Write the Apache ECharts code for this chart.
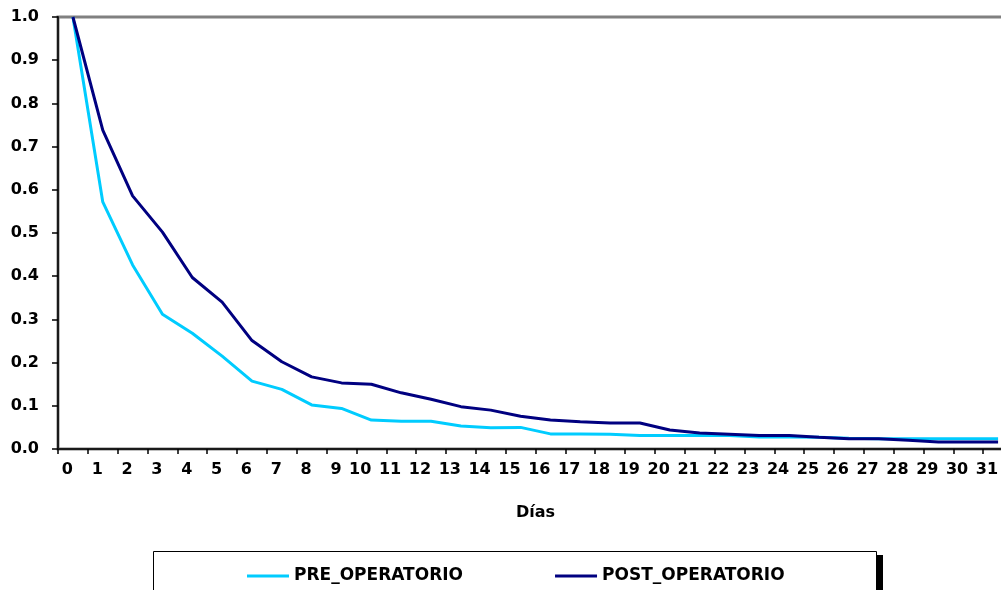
<!DOCTYPE html>
<html>
<head>
<meta charset="utf-8">
<script src="https://cdn.jsdelivr.net/npm/echarts@6/dist/echarts.min.js"></script>
<style>
html,body{margin:0;padding:0;background:#fff;}
#chart{width:1001px;height:590px;}
</style>
</head>
<body>
<div id="chart"></div>
<script>
var days = ["0","1","2","3","4","5","6","7","8","9","10","11","12","13","14","15","16","17","18","19","20","21","22","23","24","25","26","27","28","29","30","31"];
var preOperatorio = [1.0,0.572,0.426,0.312,0.268,0.215,0.157,0.138,0.102,0.094,0.067,0.064,0.064,0.053,0.049,0.050,0.035,0.035,0.034,0.031,0.031,0.031,0.031,0.028,0.028,0.027,0.025,0.024,0.024,0.024,0.024,0.024];
var postOperatorio = [1.0,0.738,0.586,0.502,0.397,0.340,0.251,0.202,0.167,0.153,0.150,0.130,0.115,0.098,0.090,0.076,0.067,0.063,0.060,0.060,0.044,0.037,0.034,0.031,0.031,0.027,0.024,0.024,0.020,0.016,0.016,0.016];
var seriesNames = ["PRE_OPERATORIO","POST_OPERATORIO"];
var xTitle = "Días";

var chart = echarts.init(document.getElementById('chart'));
var font = 'DejaVu Sans, Verdana, sans-serif';
chart.setOption({
  animation: false,
  backgroundColor: '#ffffff',
  grid: {
    left: 58, top: 17, width: 955, height: 432,
    outerBoundsMode: 'none',
    containLabel: false,
    show: true, borderColor: '#808080', borderWidth: 3, backgroundColor: 'transparent'
  },
  graphic: [
    { type: 'rect', z: 0, silent: true, shape: { x: 160, y: 555, width: 723, height: 60 }, style: { fill: '#000000' } },
    { type: 'rect', z: 1, silent: true, shape: { x: 153.5, y: 551.5, width: 723, height: 60 }, style: { fill: '#ffffff', stroke: '#000000', lineWidth: 1 } }
  ],
  legend: {
    data: seriesNames,
    left: 242, top: 562,
    orient: 'horizontal',
    padding: 5,
    z: 10,
    itemGap: 92,
    itemWidth: 42,
    itemHeight: 3,
    icon: 'rect',
    textStyle: { fontFamily: font, fontSize: 17, fontWeight: 'bold', color: '#000', lineHeight: 18 }
  },
  xAxis: {
    type: 'category',
    data: days,
    boundaryGap: true,
    name: xTitle,
    nameLocation: 'middle',
    nameGap: 56,
    nameTextStyle: { fontFamily: font, fontSize: 16, fontWeight: 'bold', color: '#000', verticalAlign: 'top' },
    axisLine: { show: true, lineStyle: { color: '#1a1a1a', width: 2 } },
    axisTick: { show: true, length: 5, alignWithLabel: false, lineStyle: { color: '#000', width: 1.5 } },
    axisLabel: { interval: 0, align: 'right', margin: 13, fontFamily: font, fontSize: 16, fontWeight: 'bold', color: '#000' },
    splitLine: { show: false }
  },
  yAxis: {
    type: 'value',
    min: 0, max: 1, interval: 0.1,
    axisLine: { show: true, lineStyle: { color: '#1a1a1a', width: 2 } },
    axisTick: { show: true, length: 6, lineStyle: { color: '#000', width: 1.5 } },
    axisLabel: { margin: 19, fontFamily: font, fontSize: 16, fontWeight: 'bold', color: '#000',
      formatter: function (v) { return v.toFixed(1); } },
    splitLine: { show: false }
  },
  series: [
    { name: seriesNames[0], type: 'line', data: preOperatorio, symbol: 'none', itemStyle: { color: '#00CCFF' }, lineStyle: { color: '#00CCFF', width: 3 } },
    { name: seriesNames[1], type: 'line', data: postOperatorio, symbol: 'none', itemStyle: { color: '#000080' }, lineStyle: { color: '#000080', width: 3 } }
  ]
});
</script>
</body>
</html>
